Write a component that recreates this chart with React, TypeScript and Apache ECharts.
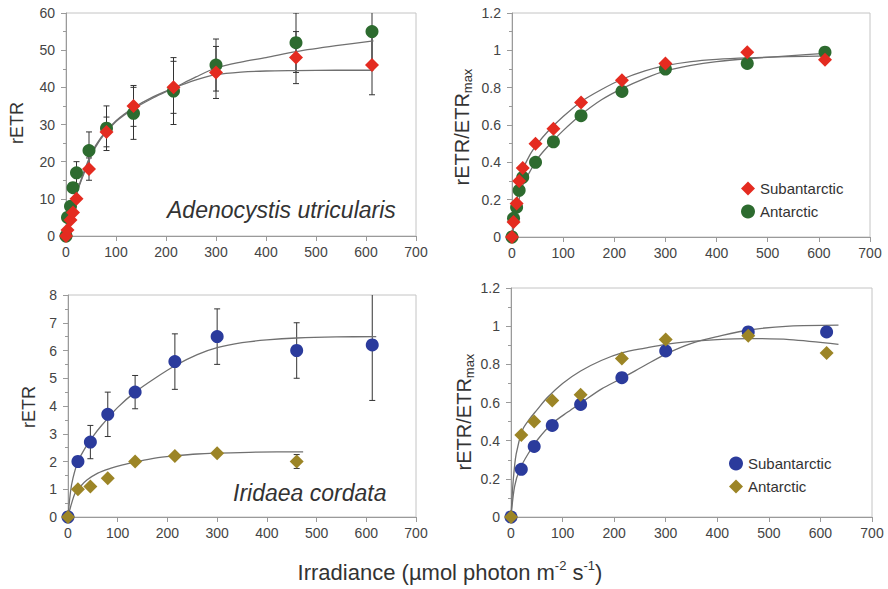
import React, { useEffect, useRef } from "react";
import * as echarts from "echarts";

// ---------- data ----------
const irrTop = [0, 3, 9, 14, 21, 46, 81, 135, 215, 300, 460, 612];
const tlSub = [0, 1.6, 4.3, 6.3, 10, 18, 28, 35, 40, 44, 48, 46];
const tlSubErr = [0, 0, 0, 0, 0, 3, 4, 5.5, 7, 7, 7, 8];
const tlAnt = [0, 5, 8, 13, 17, 23, 29, 33, 39, 46, 52, 55];
const tlAntErr = [0, 0, 0, 0, 3, 5, 6, 7, 9, 7, 8, 9];

const trSub = [0, 0.08, 0.18, 0.3, 0.37, 0.5, 0.58, 0.72, 0.84, 0.93, 0.99, 0.95];
const trAnt = [0, 0.1, 0.16, 0.25, 0.32, 0.4, 0.51, 0.65, 0.78, 0.9, 0.93, 0.99];

const irrBotSub = [0, 20, 45, 80, 135, 215, 300, 460, 612];
const irrBotAnt = [0, 20, 45, 80, 135, 215, 300, 460];
const blSub = [0, 2.0, 2.7, 3.7, 4.5, 5.6, 6.5, 6.0, 6.2];
const blSubErr = [0, 0, 0.6, 0.8, 0.6, 1.0, 1.0, 1.0, 2.0];
const blAnt = [0, 1.0, 1.1, 1.4, 2.0, 2.2, 2.3, 2.0];
const blAntErr = [0, 0, 0, 0, 0, 0, 0, 0.25];

const brSub = [0, 0.25, 0.37, 0.48, 0.59, 0.73, 0.87, 0.97, 0.97];
const brAnt = [0, 0.43, 0.5, 0.61, 0.64, 0.83, 0.93, 0.95, 0.86];

// fitted curves
const tlFitX = [0, 10, 20, 35, 50, 70, 100, 135, 175, 215, 260, 300, 350, 400, 460, 540, 615];
const tlFitSubY = [0, 6, 11, 17, 22, 26.5, 31, 34.5, 37.5, 39.8, 42, 43.4, 44.1, 44.4, 44.5, 44.6, 44.6];
const tlFitAntY = [0, 6, 11, 16.5, 21.5, 26.2, 30.8, 34.2, 37.2, 39.8, 42.8, 45.2, 46.8, 48, 49.6, 51.2, 52.5];

const trFitX = [0, 5, 10, 20, 35, 50, 70, 100, 135, 175, 215, 260, 300, 350, 400, 460, 540, 620];
const trFitSubY = [0, 0.11, 0.2, 0.35, 0.44, 0.5, 0.565, 0.645, 0.725, 0.79, 0.845, 0.89, 0.918, 0.94, 0.952, 0.96, 0.966, 0.97];
const trFitAntY = [0, 0.08, 0.15, 0.27, 0.35, 0.42, 0.485, 0.57, 0.655, 0.735, 0.795, 0.85, 0.89, 0.92, 0.94, 0.955, 0.97, 0.985];

const blFitSubX = [0, 5, 10, 20, 35, 50, 70, 100, 135, 175, 215, 260, 300, 350, 400, 460, 540, 620];
const blFitSubY = [0, 0.9, 1.4, 2.0, 2.5, 2.9, 3.35, 3.95, 4.5, 5.0, 5.45, 5.85, 6.1, 6.28, 6.38, 6.45, 6.49, 6.5];
const blFitAntX = [0, 5, 14, 25, 38, 60, 85, 110, 135, 175, 215, 260, 300, 380, 473];
const blFitAntY = [0, 0.35, 0.85, 1.1, 1.33, 1.58, 1.75, 1.88, 1.98, 2.12, 2.2, 2.27, 2.3, 2.34, 2.35];

const brFitSubX = [0, 7, 17, 33, 53, 80, 110, 137, 175, 217, 260, 301, 350, 400, 460, 540, 635];
const brFitSubY = [0, 0.16, 0.25, 0.33, 0.41, 0.49, 0.55, 0.6, 0.67, 0.73, 0.795, 0.855, 0.91, 0.945, 0.98, 1.0, 1.005];
const brFitAntX = [0, 4, 10, 23, 35, 50, 70, 100, 135, 175, 215, 260, 300, 350, 400, 460, 540, 635];
const brFitAntY = [0, 0.18, 0.33, 0.46, 0.51, 0.56, 0.625, 0.7, 0.765, 0.82, 0.86, 0.885, 0.905, 0.92, 0.93, 0.935, 0.93, 0.905];

const xTicks = { min: 0, max: 700, interval: 100 };
const yRanges = [
  { min: 0, max: 60, interval: 10 },
  { min: 0, max: 1.2, interval: 0.2 },
  { min: 0, max: 8, interval: 1 },
  { min: 0, max: 1.2, interval: 0.2 },
];

// ---------- styles ----------
const FONT = "'Liberation Sans', Arial, sans-serif";
const RED = "#e42b20";
const GREEN = "#2d6b2f";
const BLUE = "#2b3b9c";
const OLIVE = "#9c8526";
const FIT = "#707070";
const AXIS = "#9a9a9a";

const zip = (xs: number[], ys: number[]) => xs.map((x, i) => [x, ys[i]]);
const errData = (xs: number[], ys: number[], es: number[]) =>
  xs
    .map((x, i) => (es[i] ? [x, ys[i] - es[i], ys[i] + es[i]] : null))
    .filter((d) => d !== null);

const grids = [
  { left: 66, top: 13, width: 350, height: 223 },
  { left: 512, top: 13, width: 358, height: 224 },
  { left: 68, top: 295, width: 348, height: 222 },
  { left: 511, top: 288, width: 361, height: 229 },
];

function errSeries(gi: number, data: any[]) {
  return {
    type: "custom",
    xAxisIndex: gi,
    yAxisIndex: gi,
    clip: true,
    z: 1,
    silent: true,
    data,
    renderItem: (params: any, api: any) => {
      const x = api.value(0);
      const top = api.coord([x, api.value(2)]);
      const bot = api.coord([x, api.value(1)]);
      const c = 3;
      const st = { stroke: "#333", lineWidth: 1 };
      return {
        type: "group",
        children: [
          { type: "line", shape: { x1: top[0], y1: top[1], x2: bot[0], y2: bot[1] }, style: st },
          { type: "line", shape: { x1: top[0] - c, y1: top[1], x2: top[0] + c, y2: top[1] }, style: st },
          { type: "line", shape: { x1: bot[0] - c, y1: bot[1], x2: bot[0] + c, y2: bot[1] }, style: st },
        ],
      };
    },
  };
}

function fitSeries(gi: number, xs: number[], ys: number[]) {
  return {
    type: "line",
    name: "fit",
    xAxisIndex: gi,
    yAxisIndex: gi,
    data: zip(xs, ys),
    smooth: 0.3,
    showSymbol: false,
    symbol: "none",
    silent: true,
    z: 2,
    lineStyle: { color: FIT, width: 1.3 },
  };
}

function pts(gi: number, name: string, xs: number[], ys: number[], symbol: string, color: string, z: number) {
  return {
    type: "scatter",
    name,
    xAxisIndex: gi,
    yAxisIndex: gi,
    data: zip(xs, ys),
    symbol,
    symbolSize: symbol === "diamond" ? 14 : 13,
    z,
    itemStyle: { color, opacity: 1 },
  };
}

export default function App() {
  const ref = useRef<HTMLDivElement>(null);
  useEffect(() => {
    if (!ref.current) return;
    const chart = echarts.init(ref.current, undefined, { renderer: "svg" });

    const xAxis = grids.map((_, i) => ({
      type: "value",
      gridIndex: i,
      ...xTicks,
      axisLine: { show: true, lineStyle: { color: AXIS, width: 1 } },
      axisTick: { show: true, length: 5, lineStyle: { color: AXIS } },
      axisLabel: { color: "#444", fontSize: 14, margin: 9, fontFamily: FONT },
      splitLine: { show: false },
    }));
    const yAxis = grids.map((_, i) => ({
      type: "value",
      gridIndex: i,
      ...yRanges[i],
      axisLine: { show: true, lineStyle: { color: AXIS, width: 1 } },
      axisTick: { show: true, length: 5, lineStyle: { color: AXIS } },
      minorTick: { show: true, splitNumber: 2, length: 3, lineStyle: { color: AXIS } },
      axisLabel: { color: "#444", fontSize: 14, margin: 11, fontFamily: FONT },
      splitLine: { show: false },
      minorSplitLine: { show: false },
    }));

    const ratioRich = {
      m: { fontSize: 20, fontFamily: FONT, fill: "#333", lineHeight: 24 },
      s: { fontSize: 13, fontFamily: FONT, fill: "#333", verticalAlign: "bottom", lineHeight: 24, padding: [8, 0, 0, 0] },
    };

    const legendBase = {
      orient: "vertical",
      itemGap: 8,
      itemWidth: 14,
      itemHeight: 14,
      selectedMode: false,
      textStyle: { fontSize: 15, color: "#333", fontFamily: FONT },
    };

    const option: any = {
      animation: false,
      backgroundColor: "#fff",
      grid: grids.map((g) => ({ ...g, show: true, borderColor: "#c4c4c4", borderWidth: 1, backgroundColor: "transparent" })),
      xAxis,
      yAxis,
      legend: [
        {
          ...legendBase,
          left: 736,
          top: 176,
          data: [
            { name: "Subantarctic", icon: "diamond", itemStyle: { color: RED } },
            { name: "Antarctic", icon: "circle", itemStyle: { color: GREEN } },
          ],
        },
        {
          ...legendBase,
          left: 724,
          top: 451,
          data: [
            { name: "Subantarctic", icon: "circle", itemStyle: { color: BLUE } },
            { name: "Antarctic", icon: "diamond", itemStyle: { color: OLIVE } },
          ],
        },
      ],
      series: [
        // top-left
        errSeries(0, errData(irrTop, tlAnt, tlAntErr)),
        errSeries(0, errData(irrTop, tlSub, tlSubErr)),
        fitSeries(0, tlFitX, tlFitSubY),
        fitSeries(0, tlFitX, tlFitAntY),
        pts(0, "Antarctic", irrTop, tlAnt, "circle", GREEN, 3),
        pts(0, "Subantarctic", irrTop, tlSub, "diamond", RED, 4),
        // top-right
        fitSeries(1, trFitX, trFitSubY),
        fitSeries(1, trFitX, trFitAntY),
        pts(1, "Antarctic", irrTop, trAnt, "circle", GREEN, 3),
        pts(1, "Subantarctic", irrTop, trSub, "diamond", RED, 4),
        // bottom-left
        errSeries(2, errData(irrBotSub, blSub, blSubErr)),
        errSeries(2, errData(irrBotAnt, blAnt, blAntErr)),
        fitSeries(2, blFitSubX, blFitSubY),
        fitSeries(2, blFitAntX, blFitAntY),
        pts(2, "Subantarctic", irrBotSub, blSub, "circle", BLUE, 3),
        pts(2, "Antarctic", irrBotAnt, blAnt, "diamond", OLIVE, 4),
        // bottom-right
        fitSeries(3, brFitSubX, brFitSubY),
        fitSeries(3, brFitAntX, brFitAntY),
        pts(3, "Subantarctic", irrBotSub, brSub, "circle", BLUE, 3),
        pts(3, "Antarctic", irrBotSub, brAnt, "diamond", OLIVE, 4),
      ],
      graphic: [
        {
          type: "text",
          x: 17,
          y: 123,
          rotation: Math.PI / 2,
          style: { text: "rETR", fontSize: 18, fontFamily: FONT, fill: "#333", align: "center", verticalAlign: "middle" },
        },
        {
          type: "text",
          x: 29,
          y: 407,
          rotation: Math.PI / 2,
          style: { text: "rETR", fontSize: 18, fontFamily: FONT, fill: "#333", align: "center", verticalAlign: "middle" },
        },
        {
          type: "text",
          x: 462,
          y: 127,
          rotation: Math.PI / 2,
          style: { text: "{m|rETR/ETR}{s|max}", rich: ratioRich, align: "center", verticalAlign: "middle" },
        },
        {
          type: "text",
          x: 464,
          y: 412,
          rotation: Math.PI / 2,
          style: { text: "{m|rETR/ETR}{s|max}", rich: ratioRich, align: "center", verticalAlign: "middle" },
        },
        {
          type: "text",
          x: 167,
          y: 210,
          style: { text: "Adenocystis utricularis", fontSize: 23, fontStyle: "italic", fontFamily: FONT, fill: "#333", align: "left", verticalAlign: "middle" },
        },
        {
          type: "text",
          x: 233,
          y: 493,
          style: { text: "Iridaea cordata", fontSize: 23, fontStyle: "italic", fontFamily: FONT, fill: "#333", align: "left", verticalAlign: "middle" },
        },
        {
          type: "text",
          x: 450,
          y: 572,
          style: {
            text: "{m|Irradiance (µmol photon m}{p|-2}{m| s}{p|-1}{m|)}",
            align: "center",
            verticalAlign: "middle",
            rich: {
              m: { fontSize: 22, fontFamily: FONT, fill: "#333", lineHeight: 26 },
              p: { fontSize: 13, fontFamily: FONT, fill: "#333", verticalAlign: "top", lineHeight: 26, padding: [0, 0, 10, 0] },
            },
          },
        },
      ],
    };
    chart.setOption(option);
    return () => chart.dispose();
  }, []);
  return <div ref={ref} style={{ position: "absolute", left: 0, top: 0, width: 888, height: 589 }} />;
}
